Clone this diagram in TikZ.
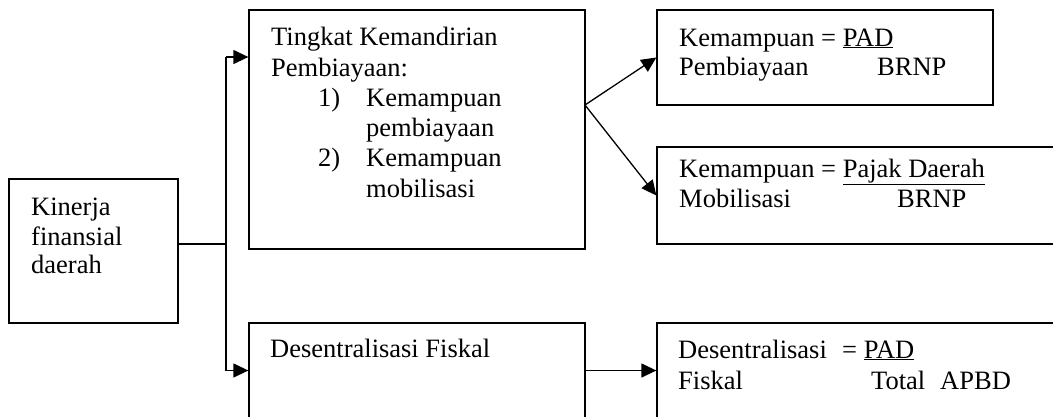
\documentclass[tikz,border=0pt]{standalone}
\usepackage{fontspec}
\setmainfont{Liberation Serif}
\usetikzlibrary{arrows.meta}
\begin{document}
\begin{tikzpicture}[x=1pt,y=-1pt,
  box/.style={draw,line width=1.3pt,rectangle,inner sep=0pt},
  txt/.style={anchor=base west,inner sep=0pt,font=\fontsize{26.5}{30}\selectfont},
  conn/.style={line width=1.3pt},
  arr/.style={line width=1.3pt,-{Triangle[length=15pt,width=14pt]}}]
\clip (0,0) rectangle (1053,416);
\useasboundingbox (0,0) rectangle (1053,416);
% boxes
\node[box,minimum width=169pt,minimum height=144pt] (kin) at (93.5,251) {};
\node[box,minimum width=336pt,minimum height=239pt] (tkp) at (417,129.5) {};
\node[box,minimum width=336pt,minimum height=95pt] (dsf) at (417,370.5) {};
\node[box,minimum width=336pt,minimum height=95pt] (kp) at (825,57.5) {};
\node[box,minimum width=403pt,minimum height=97pt] (km) at (858.5,195.5) {};
\node[box,minimum width=403pt,minimum height=95pt] (df) at (858.5,370.5) {};
% texts
\node[txt] (k1) at (31,215) {Kinerja};
\node[txt] (k2) at (31,245) {finansial};
\node[txt] (k3) at (31,273) {daerah};
\node[txt] (t1) at (271,45) {Tingkat Kemandirian};
\node[txt] (t2) at (271,76) {Pembiayaan:};
\node[txt] (t3) at (318,106) {1)};
\node[txt] (t4) at (366,106) {Kemampuan};
\node[txt] (t5) at (366,136) {pembiayaan};
\node[txt] (t6) at (318,166) {2)};
\node[txt] (t7) at (366,166) {Kemampuan};
\node[txt] (t8) at (366,197) {mobilisasi};
\node[txt] (d1) at (270,357) {Desentralisasi Fiskal};
\node[txt] (p1) at (679,46) {Kemampuan = \underline{PAD}};
\node[txt] (p2) at (679,75) {Pembiayaan};
\node[txt] (p3) at (877,75) {BRNP};
\node[txt] (m1) at (679,177) {Kemampuan = \underline{Pajak Daerah}};
\node[txt] (m2) at (679,207) {Mobilisasi};
\node[txt] (m3) at (897,207) {BRNP};
\node[txt] (f1) at (678,358) {Desentralisasi};
\node[txt] (f2) at (842,358) {= \underline{PAD}};
\node[txt] (f3) at (678,389) {Fiskal};
\node[txt] (f4) at (871,389) {Total};
\node[txt] (f5) at (940,389) {APBD};
% connectors
\coordinate (j) at (226,244);
\coordinate (ja) at (226,57);
\coordinate (jb) at (226,370.5);
\coordinate (s) at (585,105);
\draw[conn] (kin.east |- j) -- (j);
\draw[conn] (ja) -- (jb);
\draw[arr] (ja) -- (ja -| tkp.west);
\draw[arr] (jb) -- (dsf.west);
\draw[arr] (s) -- (kp.west);
\draw[arr] (s) -- (km.west);
\draw[arr] (dsf.east) -- (df.west);
\end{tikzpicture}
\end{document}
